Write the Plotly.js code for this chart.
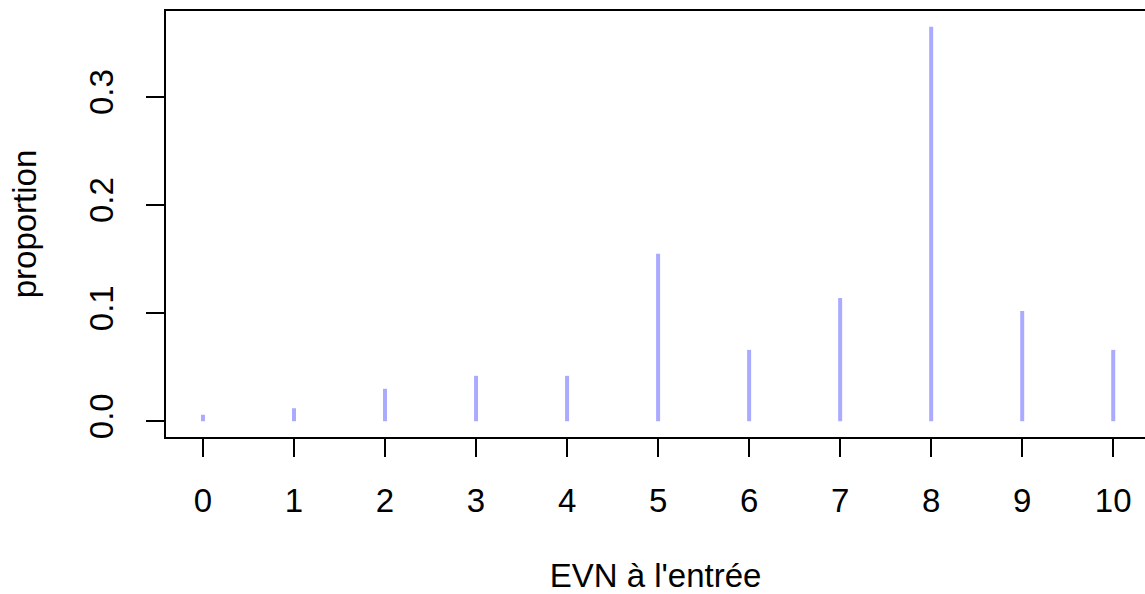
<!DOCTYPE html>
<html>
<head>
<meta charset="utf-8">
<script src="https://cdn.plot.ly/plotly-3.0.1.min.js"></script>
<style>html,body{margin:0;padding:0;background:#fff;}#chart{width:1145px;height:594px;}</style>
</head>
<body>
<div id="chart"></div>
<script>
const evn = [0, 1, 2, 3, 4, 5, 6, 7, 8, 9, 10];
const proportion = [0.006, 0.012, 0.030, 0.042, 0.042, 0.155, 0.066, 0.114, 0.365, 0.102, 0.066];
const xTicks = [0, 1, 2, 3, 4, 5, 6, 7, 8, 9, 10];
const yTicks = [0, 0.1, 0.2, 0.3];
const yTickText = ["0.0", "0.1", "0.2", "0.3"];

const xs = [], ys = [];
evn.forEach((v, i) => { xs.push(v, v, null); ys.push(0, proportion[i], null); });

const font = {family: "Liberation Sans, Arial, sans-serif", size: 33, color: "#000"};
const trace = {
  x: xs, y: ys, type: "scatter", mode: "lines",
  line: {color: "#aaaaff", width: 4},
  hoverinfo: "skip", showlegend: false
};
const layout = {
  width: 1145, height: 594,
  margin: {l: 166, r: 0, t: 11, b: 157},
  paper_bgcolor: "#fff", plot_bgcolor: "#fff",
  font: font,
  xaxis: {
    range: [-0.406, 10.349], tickmode: "array", tickvals: xTicks,
    ticks: "outside", ticklen: 18, tickwidth: 2, tickcolor: "#000",
    showline: true, linewidth: 2, linecolor: "#000", mirror: true,
    showgrid: false, zeroline: false, tickfont: font, ticklabelstandoff: 15,
    title: {text: "EVN à l'entrée", font: font, standoff: 49}
  },
  yaxis: {
    range: [-0.0146, 0.3796], tickmode: "array", tickvals: yTicks, ticktext: yTickText,
    ticks: "outside", ticklen: 18, tickwidth: 2, tickcolor: "#000",
    showline: true, linewidth: 2, linecolor: "#000", mirror: false,
    showgrid: false, zeroline: false, tickfont: font, tickangle: -90, ticklabelstandoff: 20,
    title: {text: "proportion", font: font, standoff: 36}
  }
};
Plotly.newPlot("chart", [trace], layout, {displayModeBar: false, staticPlot: true});
</script>
</body>
</html>
